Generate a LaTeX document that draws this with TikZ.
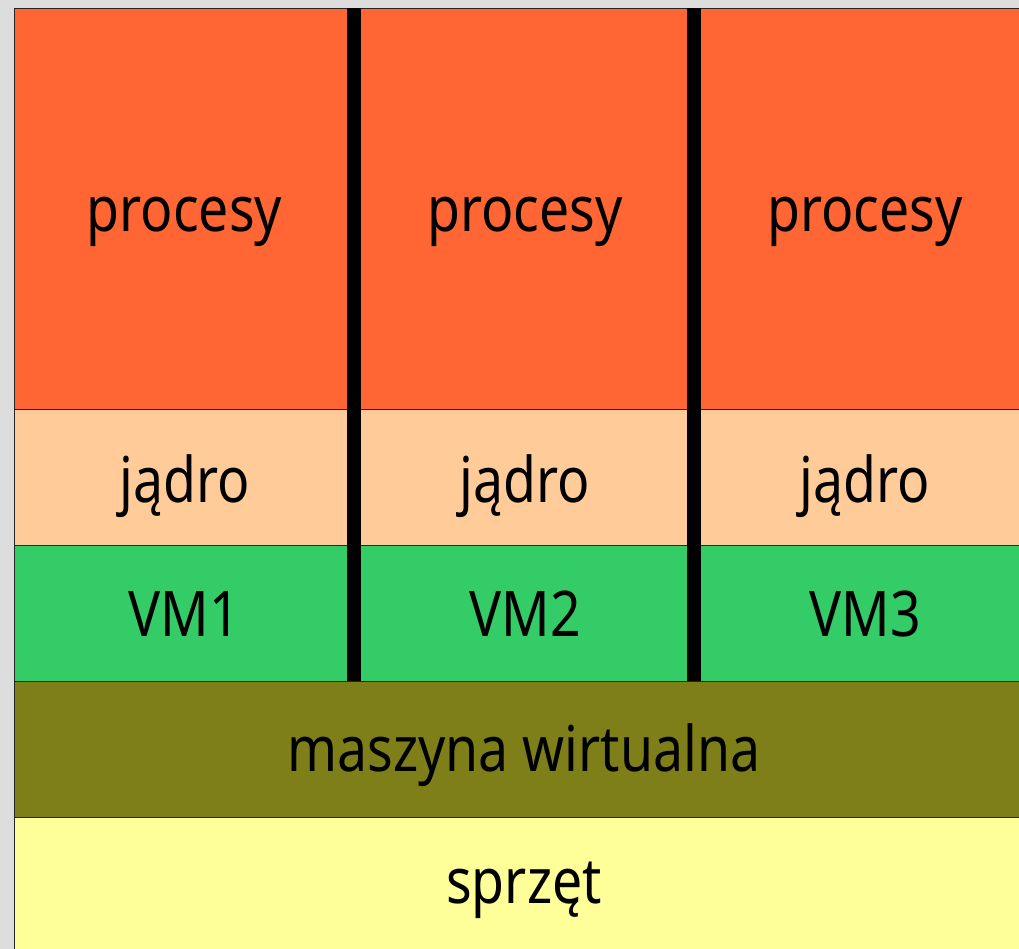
\documentclass[tikz,border=0pt]{standalone}
\usepackage{fontspec}
\setmainfont[FakeStretch=0.85]{Noto Sans}
\definecolor{bggray}{HTML}{DDDDDD}
\definecolor{proc}{HTML}{FF6633}
\definecolor{kern}{HTML}{FFCC99}
\definecolor{vmg}{HTML}{33CC66}
\definecolor{hyp}{HTML}{7F7F19}
\definecolor{hw}{HTML}{FFFF99}
\tikzset{
  cell/.style={draw=black!85, line width=1pt, inner sep=0pt, anchor=north west},
  lbl/.style={anchor=base, inner sep=0pt, font=\fontsize{63}{70}\selectfont},
  bar/.style={fill=black}
}
\begin{document}
\begin{tikzpicture}[x=1pt,y=-1pt]
\useasboundingbox (0,0) rectangle (1019,949);
\fill[bggray] (0,0) rectangle (1019,949);
\begin{scope}
\clip (0,0) rectangle (1019,949);
% three guest stacks
\foreach \i/\x in {1/13.5,2/354,3/694}{
  \node[cell, fill=proc, minimum width=340pt, minimum height=401pt] (p\i) at (\x,8) {};
  \node[cell, fill=kern, minimum width=340pt, minimum height=136pt] (k\i) at (\x,409) {};
  \node[cell, fill=vmg,  minimum width=340pt, minimum height=136pt] (v\i) at (\x,545) {};
  \node[lbl] (pt\i) at (\x+171,232) {procesy};
  \node[lbl] (kt\i) at (\x+171,502) {jądro};
  \node[lbl] (vt\i) at (\x+171,636) {VM\i};
}
% shared layers
\node[cell, fill=hyp, minimum width=1040pt, minimum height=136pt] (h) at (13.5,681) {};
\node[lbl] (ht) at (524,771) {maszyna wirtualna};
\node[cell, fill=hw, minimum width=1040pt, minimum height=150pt] (s) at (13.5,817) {};
\node[lbl] (st) at (524,903) {sprzęt};
% separators between the guests
\fill[bar] (347,8) rectangle (361,681);
\fill[bar] (687,8) rectangle (701,681);
\end{scope}
\end{tikzpicture}
\end{document}
